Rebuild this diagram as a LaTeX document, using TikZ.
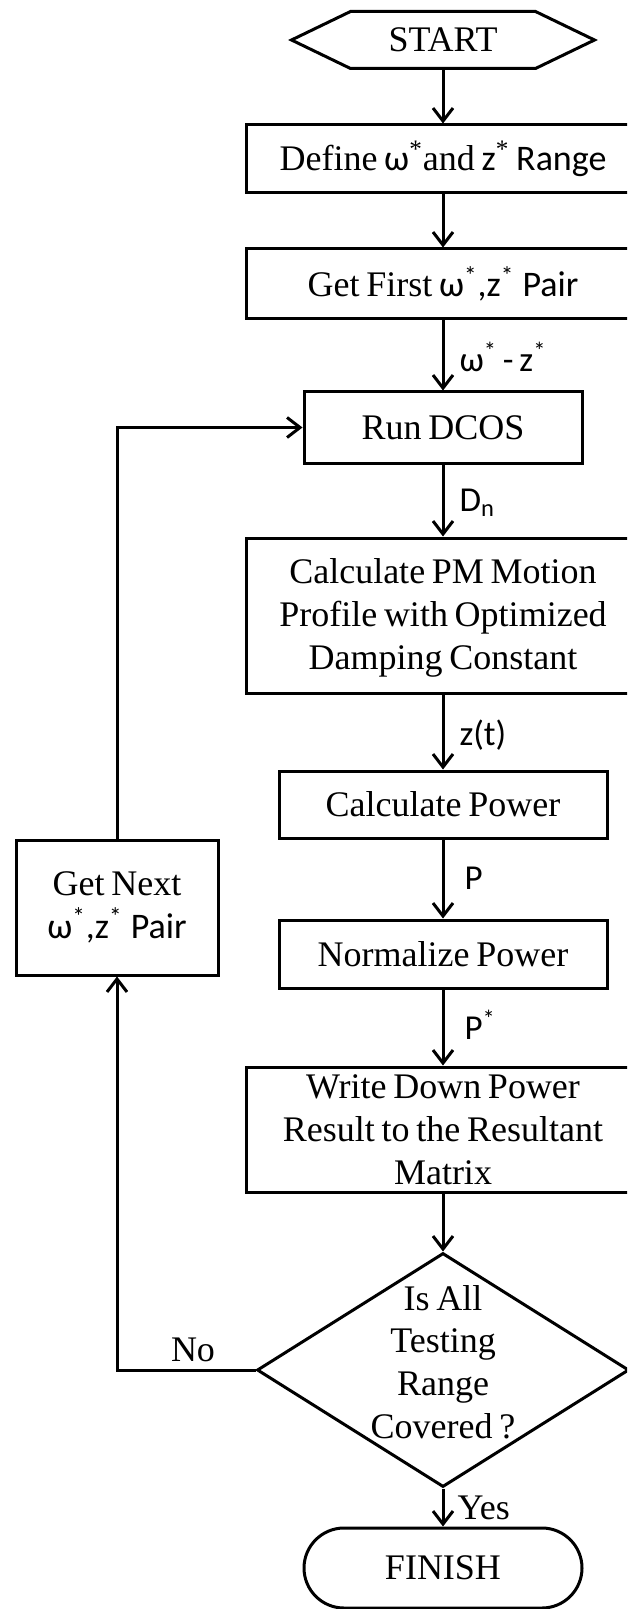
\documentclass[tikz,border=0pt]{standalone}
\usepackage{fontspec}
\setmainfont{Liberation Serif}[WordSpace=0.75]
\newfontfamily\lbl{Carlito}
\usetikzlibrary{arrows.meta,shapes.geometric,shapes.misc,calc}

\begin{document}
\begin{tikzpicture}[x=0.5pt,y=-0.5pt,
  line width=1.5pt,
  flow/.style={-{Straight Barb[length=6.5pt,width=10pt,line width=1.5pt]}},
  txt/.style={font=\fontsize{18}{21.4}\selectfont,align=center,inner sep=0pt},
  box/.style={txt,draw,rectangle},
  wide/.style={box,minimum width=197pt},
  mid/.style={box,minimum width=164pt},
  narrow/.style={box,minimum width=139pt},
  decision/.style={draw,diamond,minimum width=186pt,minimum height=117pt,inner sep=0pt},
  terminal/.style={txt,draw,rounded rectangle,minimum width=139pt,minimum height=40pt},
  lab/.style={anchor=west,inner sep=0pt,font=\lbl\fontsize{17.5}{21}\selectfont},
  slab/.style={inner sep=0pt,font=\fontsize{18}{21}\selectfont}]

\path[use as bounding box] (0,0) rectangle (627,1609);
\clip (0,0) rectangle (627,1609);

% start terminal (hexagon drawn around the node)
\node[txt,minimum width=150pt,minimum height=27pt] (start) at (443,40) {START};
\draw (start.west) -- ([xshift=29.5pt]start.north west) -- ([xshift=-29.5pt]start.north east)
  -- (start.east) -- ([xshift=-29.5pt]start.south east) -- ([xshift=29.5pt]start.south west) -- cycle;

% main column
\node[wide,minimum height=34pt] (define) at (443,159)
  {Define {\lbl ω}\textsuperscript{*}and {\lbl z}\textsuperscript{*} {\lbl Range}};
\node[wide,minimum height=35pt] (getfirst) at (443,284)
  {Get First {\lbl ω\textsuperscript{*},z\textsuperscript{*} Pair}};
\node[narrow,minimum height=35.5pt] (rundcos) at (443,427.5) {Run DCOS};
\node[wide,minimum height=77.5pt] (calcpm) at (443,615.5)
  {\strut Calculate PM Motion\\Profile with Optimized\\Damping Constant};
\node[mid,minimum height=33.5pt] (calcpower) at (443,804.5) {Calculate Power};
\node[mid,minimum height=34pt] (normalize) at (443,954) {Normalize Power};
\node[wide,minimum height=62.5pt] (write) at (443,1129.5)
  {Write Down Power\\Result to the Resultant\\Matrix};
\node[decision] (check) at (443,1370) {};
\node[txt] (checktext) at (443,1362) {Is All\\Testing\\Range\\Covered ?};
\node[terminal] (finish) at (443,1568) {FINISH};

% loop-back box
\node[box,minimum width=101pt,minimum height=67.5pt] (getnext) at (117,907.5)
  {Get Next\\{\lbl ω\textsuperscript{*},z\textsuperscript{*} Pair}};

% connectors
\draw[flow] (start) -- (define);
\draw[flow] (define) -- (getfirst);
\draw[flow] (getfirst) -- (rundcos);
\draw[flow] (rundcos) -- (calcpm);
\draw[flow] (calcpm) -- (calcpower);
\draw[flow] (calcpower) -- (normalize);
\draw[flow] (normalize) -- (write);
\draw[flow] (write) -- (check);
\draw[flow] (check) -- (finish);
\draw[flow] (check.west) -| (getnext.south);
\draw[flow] (getnext.north) |- (rundcos.west);

% connector labels
\node[lab] (lwz) at (458,357) {ω\textsuperscript{*}\,-\,z\textsuperscript{*}};
\node[lab] (ldn) at (458,503) {D\textsubscript{n}};
\node[lab] (lzt) at (458,735) {z(t)};
\node[lab] (lp) at (463,878) {P};
\node[lab] (lps) at (463,1025) {P\textsuperscript{*}};
\node[slab,anchor=west] (lyes) at (456,1508) {Yes};
\node[slab] (lno) at (193,1350) {No};
\end{tikzpicture}
\end{document}
